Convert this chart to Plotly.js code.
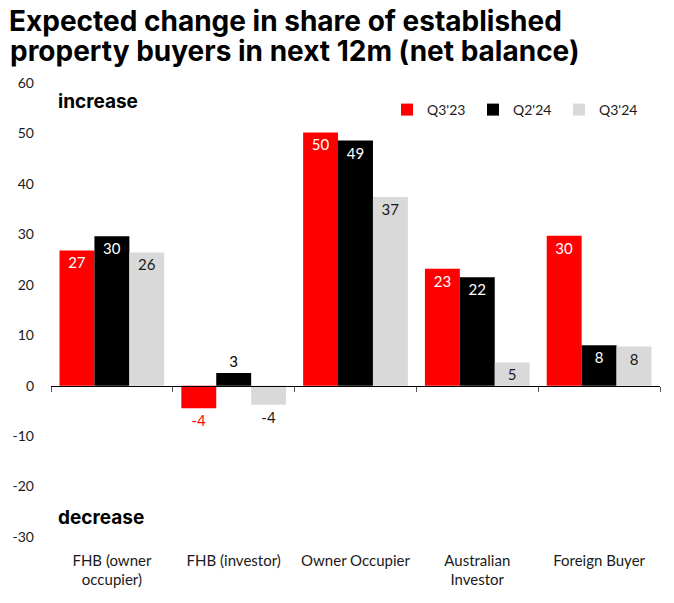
<!DOCTYPE html>
<html>
<head>
<meta charset="utf-8">
<script src="https://cdn.plot.ly/plotly-3.0.1.min.js"></script>
<style>html,body{margin:0;padding:0;background:#fff;}#chart{width:674px;height:603px;}</style>
</head>
<body>
<div id="chart"></div>
<script>
// ---- data ----
const categories = ["FHB (owner<br>occupier)", "FHB (investor)", "Owner Occupier", "Australian<br>Investor", "Foreign Buyer"];
const seriesNames = ["Q3'23", "Q2'24", "Q3'24"];
const q323 = [26.8, -4.5, 50.2, 23.2, 29.7];
const q224 = [29.6, 2.5, 48.6, 21.5, 8.0];
const q324 = [26.4, -3.8, 37.4, 4.6, 7.75];
const q323Labels = ["27", "-4", "50", "23", "30"];
const q224Labels = ["30", "3", "49", "22", "8"];
const q324Labels = ["26", "-4", "37", "5", "8"];
const yTicks = [-30, -20, -10, 0, 10, 20, 30, 40, 50, 60];
const titleLines = ["Expected change in share of established", "property buyers in next 12m (net balance)"];
const upText = "increase";
const downText = "decrease";

const positions = ["inside", "outside", "inside", "inside", "inside"];
function mk(name, y, labels, color, inCol, outCol) {
  return {
    type: "bar", name: name, x: categories, y: y, text: labels,
    textposition: positions, insidetextanchor: "end", textangle: 0,
    constraintext: "none", cliponaxis: false,
    marker: {color: color, line: {width: 0}},
    insidetextfont: {family: "Lato, sans-serif", size: 15, color: inCol},
    outsidetextfont: {family: "Lato, sans-serif", size: 15, color: outCol},
    hoverinfo: "skip"
  };
}
const traces = [
  mk(seriesNames[0], q323, q323Labels, "#ff0000", "#ffffff", "#ff0000"),
  mk(seriesNames[1], q224, q224Labels, "#000000", "#ffffff", "#000000"),
  mk(seriesNames[2], q324, q324Labels, "#d9d9d9", "#1a1a1a", "#1a1a1a")
];

const titleFont = {family: "Inter, sans-serif", size: 28, weight: 700, color: "#000000"};
const labelFont = {family: "Inter, sans-serif", size: 19, weight: 700, color: "#000000"};

const layout = {
  width: 674, height: 603,
  margin: {l: 51, r: 14, t: 83, b: 66, autoexpand: false},
  paper_bgcolor: "#ffffff", plot_bgcolor: "#ffffff",
  barmode: "group", bargap: 0.14, bargroupgap: 0,
  font: {family: "Lato, sans-serif", size: 14, color: "#1a1a1a"},
  title: {
    text: titleLines[0], xref: "container", yref: "container",
    x: 9/674, xanchor: "left", y: 1 - 21/603, yanchor: "middle",
    automargin: false, font: titleFont
  },
  xaxis: {
    type: "category", anchor: "free", position: 1/3, automargin: false,
    showline: true, linecolor: "#000000", linewidth: 1,
    ticks: "outside", ticklen: 5, tickcolor: "#555555", tickson: "boundaries",
    showgrid: false, zeroline: false, tickangle: 0,
    ticklabelstandoff: 161,
    tickfont: {family: "Lato, sans-serif", size: 15, color: "#1a1a1a"},
    fixedrange: true
  },
  yaxis: {
    range: [-30, 60], tickvals: yTicks, ticktext: yTicks.map(String), automargin: false,
    showgrid: false, zeroline: false, showline: false, ticks: "",
    ticklabelstandoff: 16,
    tickfont: {family: "Lato, sans-serif", size: 14, color: "#1a1a1a"},
    fixedrange: true
  },
  legend: {
    orientation: "h", xref: "paper", x: (387-51)/609, xanchor: "left",
    y: (537-110)/454, yanchor: "middle",
    font: {family: "Lato, sans-serif", size: 14, color: "#1a1a1a"},
    entrywidth: 41, entrywidthmode: "pixels", traceorder: "normal",
    bgcolor: "rgba(0,0,0,0)"
  },
  annotations: [
    {text: titleLines[1], xref: "paper", yref: "paper", x: (8-51)/609, y: 1 + (83-51)/454,
     xanchor: "left", yanchor: "middle", showarrow: false, font: titleFont},
    {text: upText, xref: "paper", yref: "y", x: (56-51)/609, y: 56.3, xanchor: "left", yanchor: "middle",
     showarrow: false, font: labelFont},
    {text: downText, xref: "paper", yref: "y", x: (56-51)/609, y: -26.2, xanchor: "left", yanchor: "middle",
     showarrow: false, font: labelFont}
  ]
};
Plotly.newPlot("chart", traces, layout, {staticPlot: true, displayModeBar: false});
</script>
</body>
</html>
